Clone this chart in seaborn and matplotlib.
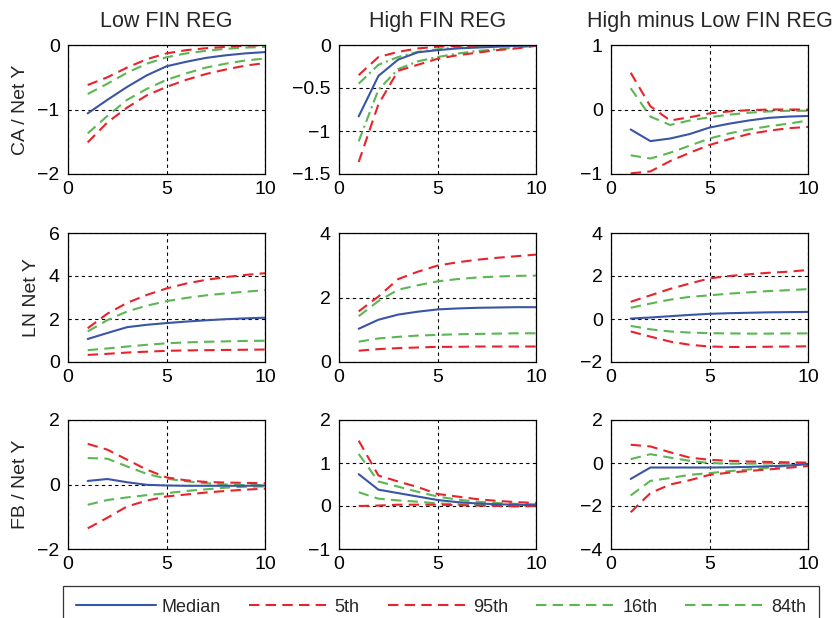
import numpy as np
import pandas as pd
import matplotlib
matplotlib.use("Agg")
import matplotlib.pyplot as plt
import seaborn as sns
from matplotlib.lines import Line2D

sns.set_style("white")
plt.rcParams['font.family'] = ['Liberation Sans', 'DejaVu Sans']

horizon = list(range(1, 11))
col_titles = ["Low FIN REG", "High FIN REG", "High minus Low FIN REG"]
row_labels = ["CA / Net Y", "LN Net Y", "FB / Net Y"]
series_names = ["Median", "5th", "95th", "16th", "84th"]

# CA / Net Y
ca_low_median = [-1.06, -0.85, -0.65, -0.47, -0.33, -0.26, -0.20, -0.16, -0.13, -0.11]
ca_low_p5 = [-1.51, -1.20, -0.97, -0.78, -0.65, -0.54, -0.45, -0.38, -0.32, -0.28]
ca_low_p95 = [-0.62, -0.50, -0.35, -0.22, -0.13, -0.08, -0.05, -0.03, -0.01, 0.0]
ca_low_p16 = [-1.37, -1.10, -0.85, -0.68, -0.54, -0.44, -0.35, -0.29, -0.24, -0.21]
ca_low_p84 = [-0.76, -0.60, -0.43, -0.29, -0.19, -0.13, -0.09, -0.06, -0.04, -0.03]

ca_high_median = [-0.83, -0.36, -0.17, -0.085, -0.06, -0.04, -0.03, -0.02, -0.01, -0.005]
ca_high_p5 = [-1.36, -0.69, -0.30, -0.23, -0.16, -0.12, -0.09, -0.06, -0.04, -0.01]
ca_high_p95 = [-0.35, -0.14, -0.08, -0.04, -0.02, -0.01, -0.01, 0.0, 0.0, 0.0]
ca_high_p16 = [-1.12, -0.52, -0.28, -0.19, -0.14, -0.10, -0.07, -0.05, -0.03, -0.01]
ca_high_p84 = [-0.45, -0.23, -0.14, -0.08, -0.05, -0.03, -0.02, -0.01, -0.01, 0.0]

ca_diff_median = [-0.31, -0.49, -0.45, -0.38, -0.28, -0.22, -0.17, -0.13, -0.11, -0.10]
ca_diff_p5 = [-0.99, -0.96, -0.80, -0.67, -0.55, -0.46, -0.38, -0.33, -0.29, -0.27]
ca_diff_p95 = [0.57, 0.05, -0.17, -0.12, -0.06, -0.03, -0.01, 0.0, 0.0, 0.0]
ca_diff_p16 = [-0.71, -0.76, -0.67, -0.56, -0.45, -0.37, -0.31, -0.26, -0.22, -0.17]
ca_diff_p84 = [0.33, -0.11, -0.24, -0.17, -0.12, -0.08, -0.05, -0.03, -0.02, -0.02]

# LN Net Y
ln_low_median = [1.07, 1.35, 1.62, 1.73, 1.81, 1.88, 1.94, 1.99, 2.03, 2.06]
ln_low_p5 = [0.33, 0.38, 0.44, 0.48, 0.52, 0.54, 0.55, 0.56, 0.57, 0.58]
ln_low_p95 = [1.57, 2.25, 2.75, 3.12, 3.42, 3.65, 3.82, 3.95, 4.05, 4.13]
ln_low_p16 = [1.42, 1.95, 2.35, 2.62, 2.83, 2.98, 3.10, 3.19, 3.27, 3.34]
ln_low_p84 = [0.55, 0.63, 0.72, 0.80, 0.87, 0.91, 0.94, 0.96, 0.98, 0.99]

ln_high_median = [1.03, 1.31, 1.47, 1.56, 1.63, 1.66, 1.68, 1.69, 1.70, 1.70]
ln_high_p5 = [0.35, 0.40, 0.43, 0.45, 0.47, 0.47, 0.48, 0.48, 0.48, 0.48]
ln_high_p95 = [1.57, 2.03, 2.57, 2.80, 2.99, 3.09, 3.17, 3.23, 3.28, 3.33]
ln_high_p16 = [1.42, 1.89, 2.24, 2.38, 2.50, 2.57, 2.62, 2.65, 2.67, 2.68]
ln_high_p84 = [0.63, 0.73, 0.78, 0.82, 0.84, 0.86, 0.87, 0.88, 0.89, 0.89]

ln_diff_median = [0.02, 0.07, 0.13, 0.19, 0.24, 0.27, 0.29, 0.31, 0.32, 0.33]
ln_diff_p5 = [-0.58, -0.82, -1.05, -1.20, -1.28, -1.30, -1.30, -1.29, -1.28, -1.27]
ln_diff_p95 = [0.80, 1.10, 1.40, 1.65, 1.89, 2.00, 2.08, 2.15, 2.20, 2.28]
ln_diff_p16 = [0.52, 0.72, 0.90, 1.03, 1.10, 1.18, 1.24, 1.30, 1.34, 1.39]
ln_diff_p84 = [-0.32, -0.48, -0.58, -0.63, -0.66, -0.67, -0.68, -0.68, -0.67, -0.67]

# FB / Net Y
fb_low_median = [0.11, 0.17, 0.07, -0.01, -0.03, -0.04, -0.04, -0.04, -0.04, -0.03]
fb_low_p5 = [-1.36, -1.03, -0.68, -0.50, -0.37, -0.31, -0.25, -0.20, -0.16, -0.13]
fb_low_p95 = [1.26, 1.08, 0.77, 0.46, 0.22, 0.13, 0.08, 0.06, 0.05, 0.04]
fb_low_p16 = [-0.63, -0.48, -0.40, -0.33, -0.27, -0.20, -0.15, -0.10, -0.07, -0.06]
fb_low_p84 = [0.82, 0.80, 0.56, 0.33, 0.18, 0.10, 0.04, 0.0, -0.02, -0.02]

fb_high_median = [0.74, 0.38, 0.30, 0.22, 0.14, 0.09, 0.06, 0.04, 0.03, 0.02]
fb_high_p5 = [0.0, 0.01, 0.03, 0.03, 0.03, 0.02, 0.01, 0.0, -0.01, 0.0]
fb_high_p95 = [1.52, 0.71, 0.57, 0.44, 0.28, 0.22, 0.16, 0.12, 0.09, 0.07]
fb_high_p16 = [0.32, 0.17, 0.13, 0.10, 0.06, 0.04, 0.03, 0.02, 0.01, 0.01]
fb_high_p84 = [1.21, 0.57, 0.45, 0.33, 0.22, 0.15, 0.10, 0.07, 0.05, 0.04]

fb_diff_median = [-0.74, -0.21, -0.21, -0.21, -0.21, -0.20, -0.18, -0.15, -0.12, -0.05]
fb_diff_p5 = [-2.29, -1.40, -1.00, -0.80, -0.55, -0.45, -0.37, -0.30, -0.22, -0.14]
fb_diff_p95 = [0.85, 0.77, 0.50, 0.25, 0.15, 0.10, 0.07, 0.05, 0.03, 0.02]
fb_diff_p16 = [-1.51, -0.83, -0.70, -0.55, -0.47, -0.38, -0.30, -0.22, -0.13, -0.03]
fb_diff_p84 = [0.18, 0.41, 0.25, 0.10, 0.0, -0.03, -0.03, -0.02, -0.02, -0.01]

panels = [
    [(ca_low_median, ca_low_p5, ca_low_p95, ca_low_p16, ca_low_p84),
     (ca_high_median, ca_high_p5, ca_high_p95, ca_high_p16, ca_high_p84),
     (ca_diff_median, ca_diff_p5, ca_diff_p95, ca_diff_p16, ca_diff_p84)],
    [(ln_low_median, ln_low_p5, ln_low_p95, ln_low_p16, ln_low_p84),
     (ln_high_median, ln_high_p5, ln_high_p95, ln_high_p16, ln_high_p84),
     (ln_diff_median, ln_diff_p5, ln_diff_p95, ln_diff_p16, ln_diff_p84)],
    [(fb_low_median, fb_low_p5, fb_low_p95, fb_low_p16, fb_low_p84),
     (fb_high_median, fb_high_p5, fb_high_p95, fb_high_p16, fb_high_p84),
     (fb_diff_median, fb_diff_p5, fb_diff_p95, fb_diff_p16, fb_diff_p84)],
]

ylims = [[(-2, 0), (-1.5, 0), (-1, 1)],
         [(0, 6), (0, 4), (-2, 4)],
         [(-2, 2), (-1, 2), (-4, 2)]]
yticks = [[[-2, -1, 0], [-1.5, -1, -0.5, 0], [-1, 0, 1]],
          [[0, 2, 4, 6], [0, 2, 4], [-2, 0, 2, 4]],
          [[-2, 0, 2], [-1, 0, 1, 2], [-4, -2, 0, 2]]]

BLUE = "#3a55a5"
RED = "#e8232b"
GREEN = "#5bb653"
palette = {"Median": BLUE, "5th": RED, "95th": RED, "16th": GREEN, "84th": GREEN}
DASH = (5, 3)
dashes = {"Median": "", "5th": DASH, "95th": DASH, "16th": DASH, "84th": DASH}
dashes_dd = {"Median": "", "5th": DASH, "95th": DASH,
             "16th": (5, 2, 1, 2), "84th": (5, 2, 1, 2)}

fig = plt.figure(figsize=(8.36, 6.18), dpi=100)
lefts = [68 / 836, 339 / 836, 611 / 836]
bottoms = [1 - 174 / 618, 1 - 362 / 618, 1 - 549 / 618]
w = 197 / 836
h = 129 / 618

def fmt(v):
    return ("%g" % v).replace("-", "\u2212")

for r in range(3):
    for c in range(3):
        ax = fig.add_axes([lefts[c], bottoms[r], w, h])
        vals = panels[r][c]
        df = pd.DataFrame({
            "h": horizon * 5,
            "v": [x for s in vals for x in s],
            "series": [n for n in series_names for _ in horizon],
        })
        sns.lineplot(data=df, x="h", y="v", hue="series", style="series",
                     palette=palette,
                     dashes=(dashes_dd if (r, c) == (0, 1) else dashes),
                     hue_order=series_names[::-1],
                     style_order=series_names[::-1], linewidth=1.5, ax=ax,
                     legend=False)
        ax.set_xlim(0, 10)
        ax.set_ylim(*ylims[r][c])
        ax.set_xticks([0, 5, 10])
        ax.set_xticklabels(["0", "5", "10"])
        ax.set_yticks(yticks[r][c])
        ax.set_yticklabels([fmt(t) for t in yticks[r][c]])
        ax.tick_params(axis="both", labelsize=14, length=3, direction="in",
                       colors="black")
        ax.tick_params(axis="x", pad=5)
        ax.tick_params(axis="y", pad=6)
        ax.grid(True, color="black", linestyle=(0, (3, 3)), linewidth=0.8)
        ax.set_axisbelow(True)
        for sp in ax.spines.values():
            sp.set_color("black")
            sp.set_linewidth(0.9)
        ax.set_xlabel("")
        ax.set_ylabel(row_labels[r] if c == 0 else "", fontsize=14, labelpad=6)
        if r == 0:
            ax.set_title(col_titles[c], fontsize=15.5, pad=13)

handles = [
    Line2D([], [], color=BLUE, lw=1.5),
    Line2D([], [], color=RED, lw=1.5, dashes=DASH),
    Line2D([], [], color=RED, lw=1.5, dashes=DASH),
    Line2D([], [], color=GREEN, lw=1.5, dashes=DASH),
    Line2D([], [], color=GREEN, lw=1.5, dashes=DASH),
]
leg = fig.legend(handles, series_names, loc="upper center",
                 bbox_to_anchor=(441 / 836, 1 - 586 / 618), ncol=5,
                 frameon=True, fancybox=False, edgecolor="black",
                 handlelength=4.45, handletextpad=0.3,
                 columnspacing=1.55, borderpad=0.7, borderaxespad=0,
                 prop={"family": ["Liberation Sans"], "size": 13})
leg.get_frame().set_linewidth(0.9)

fig.savefig("out.png", dpi=100)
